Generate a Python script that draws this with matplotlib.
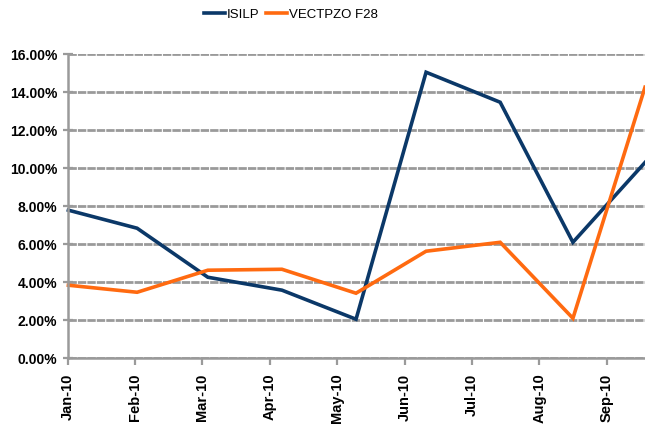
import matplotlib
matplotlib.use("Agg")
import matplotlib.pyplot as plt
from matplotlib.ticker import FuncFormatter, MultipleLocator

# tick labels (one per month) and where the observations fall, in month units
months = ["Jan-10", "Feb-10", "Mar-10", "Apr-10", "May-10", "Jun-10", "Jul-10", "Aug-10", "Sep-10"]
obs_pos = [0.01, 1.03, 2.08, 3.18, 4.28, 5.32, 6.42, 7.50, 8.57]

isilp = [7.79, 6.84, 4.26, 3.58, 2.05, 15.05, 13.47, 6.10, 10.30]
vectpzo = [3.84, 3.47, 4.63, 4.68, 3.42, 5.63, 6.10, 2.10, 14.26]

blue = "#0B3868"
orange = "#FF6A10"
axis_gray = "#9A9A9A"

plt.rcParams["font.family"] = ["Liberation Sans", "DejaVu Sans"]

fig = plt.figure(figsize=(6.45, 4.30), dpi=100)
ax = fig.add_axes([0.105, 0.167, 0.895, 0.707])

ax.plot(obs_pos, isilp, color=blue, lw=2.6, label="ISILP", solid_joinstyle="miter", clip_on=False)
ax.plot(obs_pos, vectpzo, color=orange, lw=2.6, label="VECTPZO F28", solid_joinstyle="miter", clip_on=False)

ax.set_ylim(0, 16)
ax.set_xlim(0, obs_pos[-1])
ax.yaxis.set_major_locator(MultipleLocator(2))
ax.yaxis.set_major_formatter(FuncFormatter(lambda v, p: f"{v:.2f}%"))
ax.set_xticks(range(len(months)))
ax.set_xticklabels(months, rotation=90, fontsize=10.5, fontweight="bold")
for lbl in ax.get_yticklabels():
    lbl.set_fontsize(10)
    lbl.set_fontweight("bold")

ax.grid(axis="y", color=axis_gray, lw=2.0, ls=(0, (3, 0.4)), zorder=0)
ax.set_axisbelow(True)
# top line is lighter than the rest
gl = ax.get_ygridlines()
gl[-1].set_color("#DDDDDD")
gl[-1].set_linewidth(0.8)

for side in ["top", "right"]:
    ax.spines[side].set_visible(False)
for side in ["left", "bottom"]:
    ax.spines[side].set_color(axis_gray)
    ax.spines[side].set_linewidth(1.8)

ax.tick_params(axis="y", direction="inout", length=7, width=1.6, color=axis_gray, pad=4)
ax.tick_params(axis="x", direction="out", length=5, width=1.6, color=axis_gray, pad=6)

ax.legend(loc="center", bbox_to_anchor=(291 / 645, 1 - 15 / 430), bbox_transform=fig.transFigure,
          ncol=2, frameon=False, handlelength=1.6, handletextpad=0.15, columnspacing=0.5,
          prop={"size": 9.5})

fig.savefig("out.png", dpi=100)
